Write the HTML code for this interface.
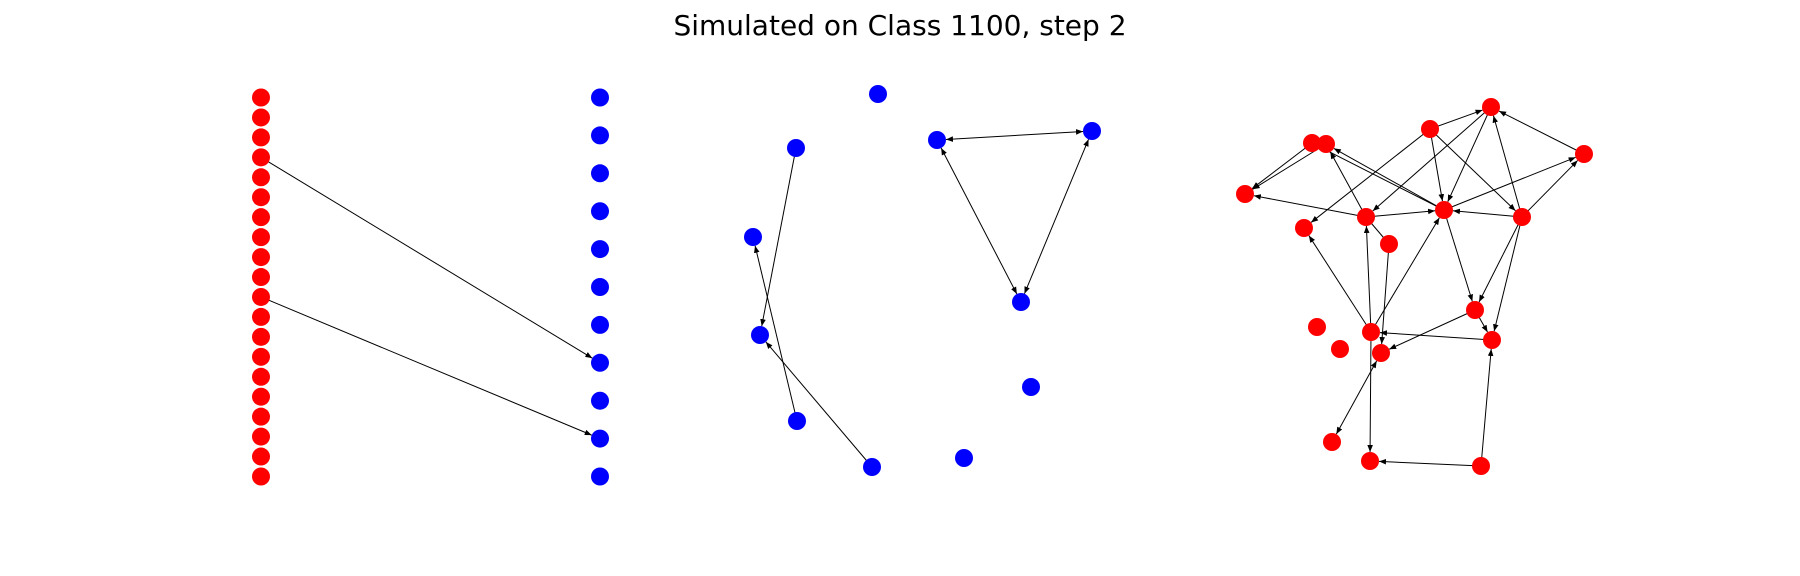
<!DOCTYPE html>
<html><head><meta charset="utf-8"><style>
html,body{margin:0;padding:0;background:#fff;}
svg{display:block;}
</style></head><body>
<svg id="fig" width="1800" height="576" viewBox="0 0 1800 576" xmlns="http://www.w3.org/2000/svg">
<defs><marker id="ah" viewBox="0 0 10 10" refX="10" refY="5" markerWidth="7" markerHeight="7" orient="auto-start-reverse" markerUnits="userSpaceOnUse"><path d="M0,1 L10,5 L0,9 z" fill="#000"/></marker></defs>
<text x="900" y="35" text-anchor="middle" font-family="DejaVu Sans, Liberation Sans, sans-serif" font-size="28" fill="#000">Simulated on Class 1100, step 2</text>
<g id="edges"></g>
<g id="nodes"></g>
</svg>
<script>
// Panel 1: bipartite
const redCount = 20;
const blueCount = 11;
const p1Edges = [[3,7],[10,9]];
// Panel 2 nodes
const p2Nodes = [[878,94],[796,148],[753,237],[760,335],[797,421],[872,467],[964,458],[937,140],[1092,131],[1021,302],[1031,387]];
const p2Edges = [[1,3,0],[4,2,0],[5,3,0],[7,8,1],[7,9,1],[8,9,1]];
// Panel 3 nodes
const p3Nodes = [[1491,107],[1430,129],[1312,143],[1326,144],[1584,154],[1245,194],[1366,217],[1444,210],[1522,217],[1304,228],[1389,244],[1475,310],[1317,327],[1371,332],[1492,340],[1340,349],[1381,353],[1332,442],[1370,461],[1481,466]];
const p3Edges = [[1,0,0],[0,7,0],[0,6,0],[1,7,0],[1,9,0],[1,8,0],[4,0,0],[8,0,0],[8,4,0],[7,4,0],[8,7,0],[6,7,0],[6,5,0],[7,3,0],[7,2,0],[2,5,0],[3,5,0],[6,3,0],[10,6,2],[10,16,0],[13,6,0],[13,9,0],[13,7,0],[13,18,0],[7,11,0],[11,14,0],[8,11,0],[8,14,0],[14,13,0],[11,16,0],[19,18,0],[19,14,0],[17,16,1]];

const R = 9;
const NS = 'http://www.w3.org/2000/svg';
const eg = document.getElementById('edges'), ng = document.getElementById('nodes');
function edge(a,b,mode){
  const dx=b[0]-a[0], dy=b[1]-a[1], L=Math.hypot(dx,dy), ux=dx/L, uy=dy/L;
  const l=document.createElementNS(NS,'line');
  l.setAttribute('x1',a[0]+ux*(mode===1?R:0)); l.setAttribute('y1',a[1]+uy*(mode===1?R:0));
  l.setAttribute('x2',b[0]-ux*(mode===2?0:R)); l.setAttribute('y2',b[1]-uy*(mode===2?0:R));
  l.setAttribute('stroke','#000'); l.setAttribute('stroke-width','1');
  if(mode!==2) l.setAttribute('marker-end','url(#ah)');
  if(mode===1) l.setAttribute('marker-start','url(#ah)');
  
  
  eg.appendChild(l);
}
function node(p,color){
  const c=document.createElementNS(NS,'circle');
  c.setAttribute('cx',p[0]); c.setAttribute('cy',p[1]); c.setAttribute('r',R); c.setAttribute('fill',color);
  
  
  ng.appendChild(c);
}
const redPos = i => [261, 97.5 + i*(476.5-97.5)/(redCount-1)];
const bluePos = i => [600, 97.5 + i*(476.5-97.5)/(blueCount-1)];
p1Edges.forEach(e=>edge(redPos(e[0]),bluePos(e[1]),0));
for(let i=0;i<redCount;i++) node(redPos(i),'#ff0000');
for(let i=0;i<blueCount;i++) node(bluePos(i),'#0000ff');
p2Edges.forEach(e=>edge(p2Nodes[e[0]],p2Nodes[e[1]],e[2]));
p2Nodes.forEach(p=>node(p,'#0000ff'));
p3Edges.forEach(e=>edge(p3Nodes[e[0]],p3Nodes[e[1]],e[2]));
p3Nodes.forEach(p=>node(p,'#ff0000'));
</script>
</body></html>
